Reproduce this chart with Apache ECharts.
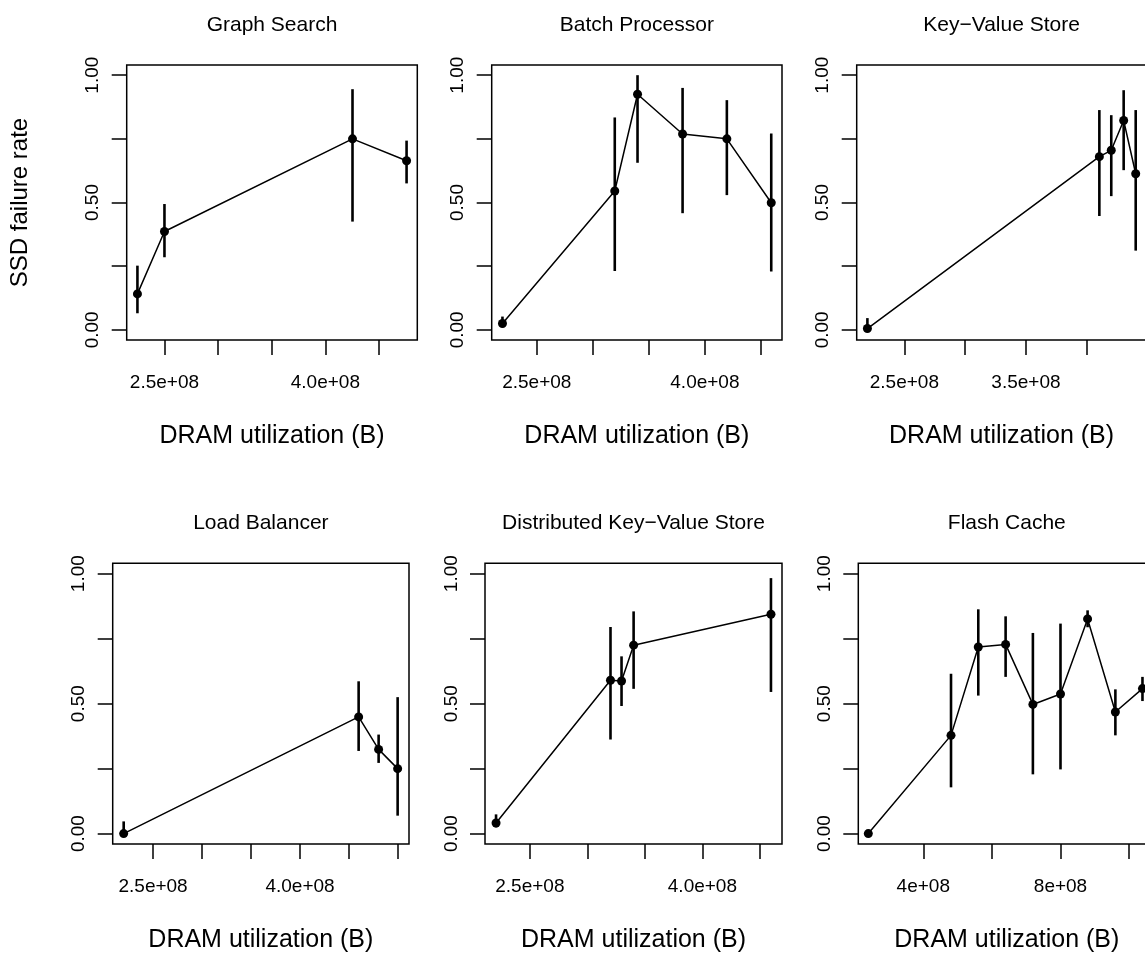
<!DOCTYPE html>
<html>
<head>
<meta charset="utf-8">
<script src="https://cdn.jsdelivr.net/npm/echarts@6/dist/echarts.min.js"></script>
<style>
  html, body { margin: 0; padding: 0; background: #fff; overflow: hidden; width: 1145px; height: 968px; }
  /* a little wider than the window so the right-hand panels are not squeezed; the overflow is cropped */
  #chart { width: 1175px; height: 968px; }
</style>
</head>
<body>
<div id="chart"></div>
<script>
// --- data (x = DRAM utilization in bytes, y = SSD failure rate) ---
const graphSearchX  = [2.248e8, 2.500e8, 4.253e8, 4.757e8];
const graphSearchY  = [0.141, 0.386, 0.750, 0.664];
const graphSearchLo = [0.065, 0.285, 0.425, 0.575];
const graphSearchHi = [0.252, 0.494, 0.945, 0.743];

const batchX  = [2.194e8, 3.196e8, 3.399e8, 3.801e8, 4.196e8, 4.592e8];
const batchY  = [0.025, 0.545, 0.925, 0.769, 0.750, 0.499];
const batchLo = [0.010, 0.231, 0.656, 0.458, 0.529, 0.229];
const batchHi = [0.052, 0.834, 1.000, 0.950, 0.902, 0.771];

const kvX  = [2.196e8, 4.104e8, 4.202e8, 4.304e8, 4.403e8];
const kvY  = [0.005, 0.680, 0.705, 0.822, 0.613];
const kvLo = [0.000, 0.447, 0.525, 0.627, 0.311];
const kvHi = [0.046, 0.863, 0.843, 0.941, 0.863];

const lbX  = [2.200e8, 4.598e8, 4.802e8, 4.996e8];
const lbY  = [0.000, 0.449, 0.324, 0.250];
const lbLo = [0.000, 0.318, 0.272, 0.069];
const lbHi = [0.047, 0.586, 0.381, 0.525];

const dkvX  = [2.206e8, 3.201e8, 3.297e8, 3.402e8, 4.596e8];
const dkvY  = [0.041, 0.590, 0.587, 0.725, 0.844];
const dkvLo = [0.024, 0.362, 0.491, 0.557, 0.545];
const dkvHi = [0.074, 0.795, 0.682, 0.855, 0.983];

const flashX  = [2.397e8, 4.808e8, 5.603e8, 6.400e8, 7.195e8, 8.000e8, 8.790e8, 9.600e8, 10.39e8];
const flashY  = [0.000, 0.378, 0.718, 0.728, 0.497, 0.537, 0.826, 0.468, 0.558];
const flashLo = [0.000, 0.178, 0.531, 0.603, 0.228, 0.247, 0.794, 0.378, 0.510];
const flashHi = [0.000, 0.615, 0.863, 0.836, 0.772, 0.808, 0.859, 0.555, 0.603];

// tick positions and labels
const yTicks = [0, 0.25, 0.5, 0.75, 1];
const yLabelVals = [0, 0.5, 1];
const yLabelText = ['0.00', '0.50', '1.00'];

const xTicksA = [2.5e8, 3.0e8, 3.5e8, 4.0e8, 4.5e8];
const xTicksB = [2.5e8, 3.0e8, 3.5e8, 4.0e8, 4.5e8, 5.0e8];
const xTicksC = [2.5e8, 3.0e8, 3.5e8, 4.0e8];
const xTicksD = [4e8, 6e8, 8e8, 10e8];
const xLabelVals1 = [2.5e8, 4.0e8];
const xLabelText1 = ['2.5e+08', '4.0e+08'];
const xLabelVals3 = [2.5e8, 3.5e8];
const xLabelText3 = ['2.5e+08', '3.5e+08'];
const xLabelVals6 = [4e8, 8e8];
const xLabelText6 = ['4e+08', '8e+08'];

const titles = ['Graph Search', 'Batch Processor', 'Key\u2212Value Store',
                'Load Balancer', 'Distributed Key\u2212Value Store', 'Flash Cache'];

const FONT = '"Liberation Sans", Arial, Helvetica, sans-serif';

var panels = [
  { x: graphSearchX, y: graphSearchY, lo: graphSearchLo, hi: graphSearchHi,
    grid: [126.7, 65, 290.6, 275], xr: [2.148e8, 4.857e8], ticks: xTicksA, lv: xLabelVals1, lt: xLabelText1 },
  { x: batchX, y: batchY, lo: batchLo, hi: batchHi,
    grid: [491.7, 65, 290.3, 275], xr: [2.098e8, 4.688e8], ticks: xTicksA, lv: xLabelVals1, lt: xLabelText1 },
  { x: kvX, y: kvY, lo: kvLo, hi: kvHi,
    grid: [856.7, 65, 289.7, 275], xr: [2.108e8, 4.491e8], ticks: xTicksC, lv: xLabelVals3, lt: xLabelText3 },
  { x: lbX, y: lbY, lo: lbLo, hi: lbHi,
    grid: [112.7, 563.3, 296.3, 280.7], xr: [2.088e8, 5.112e8], ticks: xTicksB, lv: xLabelVals1, lt: xLabelText1 },
  { x: dkvX, y: dkvY, lo: dkvLo, hi: dkvHi,
    grid: [485, 563.3, 297, 280.7], xr: [2.110e8, 4.692e8], ticks: xTicksA, lv: xLabelVals1, lt: xLabelText1 },
  { x: flashX, y: flashY, lo: flashLo, hi: flashHi,
    grid: [858.3, 563.3, 297, 280.7], xr: [2.105e8, 10.764e8], ticks: xTicksD, lv: xLabelVals6, lt: xLabelText6 }
];

var chart = echarts.init(document.getElementById('chart'), null, { renderer: 'canvas' });

var grids = [], xAxes = [], yAxes = [], series = [], graphics = [];

panels.forEach(function (p, i) {
  grids.push({
    left: p.grid[0], top: p.grid[1], width: p.grid[2], height: p.grid[3],
    show: true, borderColor: '#000', borderWidth: 1.5, backgroundColor: 'transparent'
  });

  xAxes.push({
    type: 'value', gridIndex: i, min: p.xr[0], max: p.xr[1],
    name: 'DRAM utilization (B)', nameLocation: 'middle', nameGap: 84,
    nameTextStyle: { fontSize: 25, color: '#000', fontFamily: FONT },
    axisLine: { show: false, onZero: false },
    axisTick: { show: true, length: 15, customValues: p.ticks, lineStyle: { color: '#000', width: 1.5 } },
    axisLabel: {
      customValues: p.lv, margin: 33, fontSize: 19, color: '#000', fontFamily: FONT,
      formatter: function (v) { var k = p.lv.indexOf(v); return k >= 0 ? p.lt[k] : ''; }
    },
    splitLine: { show: false }
  });

  yAxes.push({
    type: 'value', gridIndex: i, min: -0.04, max: 1.04,
    name: i === 0 ? 'SSD failure rate' : '', nameLocation: 'middle', nameGap: 94,
    nameTextStyle: { fontSize: 24, color: '#000', fontFamily: FONT },
    axisLine: { show: false, onZero: false },
    axisTick: { show: true, length: 15, customValues: yTicks, lineStyle: { color: '#000', width: 1.5 } },
    axisLabel: {
      customValues: yLabelVals, rotate: 90, margin: 24, fontSize: 19, color: '#000', fontFamily: FONT,
      formatter: function (v) { var k = yLabelVals.indexOf(v); return k >= 0 ? yLabelText[k] : ''; }
    },
    splitLine: { show: false }
  });

  // vertical error bars
  series.push({
    type: 'custom', xAxisIndex: i, yAxisIndex: i, silent: true,
    data: p.x.map(function (v, k) { return [v, p.lo[k], p.hi[k]]; }),
    renderItem: function (params, api) {
      var a = api.coord([api.value(0), api.value(1)]);
      var b = api.coord([api.value(0), api.value(2)]);
      return {
        type: 'line',
        shape: { x1: a[0], y1: a[1], x2: b[0], y2: b[1] },
        style: { stroke: '#000', lineWidth: 2.6 }
      };
    }
  });

  // line with points
  series.push({
    type: 'line', xAxisIndex: i, yAxisIndex: i, silent: true,
    data: p.x.map(function (v, k) { return [v, p.y[k]]; }),
    symbol: 'circle', symbolSize: 9, showSymbol: true,
    lineStyle: { color: '#000', width: 1.5 },
    itemStyle: { color: '#000' },
    animation: false
  });

  graphics.push({
    type: 'text',
    x: p.grid[0] + p.grid[2] / 2,
    y: p.grid[1] - 40,
    style: {
      text: titles[i], fill: '#000', fontSize: 21, fontFamily: FONT,
      textAlign: 'center', textVerticalAlign: 'middle'
    }
  });
});

var option = {
  backgroundColor: '#fff',
  animation: false,
  grid: grids,
  xAxis: xAxes,
  yAxis: yAxes,
  series: series,
  graphic: graphics
};

chart.setOption(option);
</script>
</body>
</html>
